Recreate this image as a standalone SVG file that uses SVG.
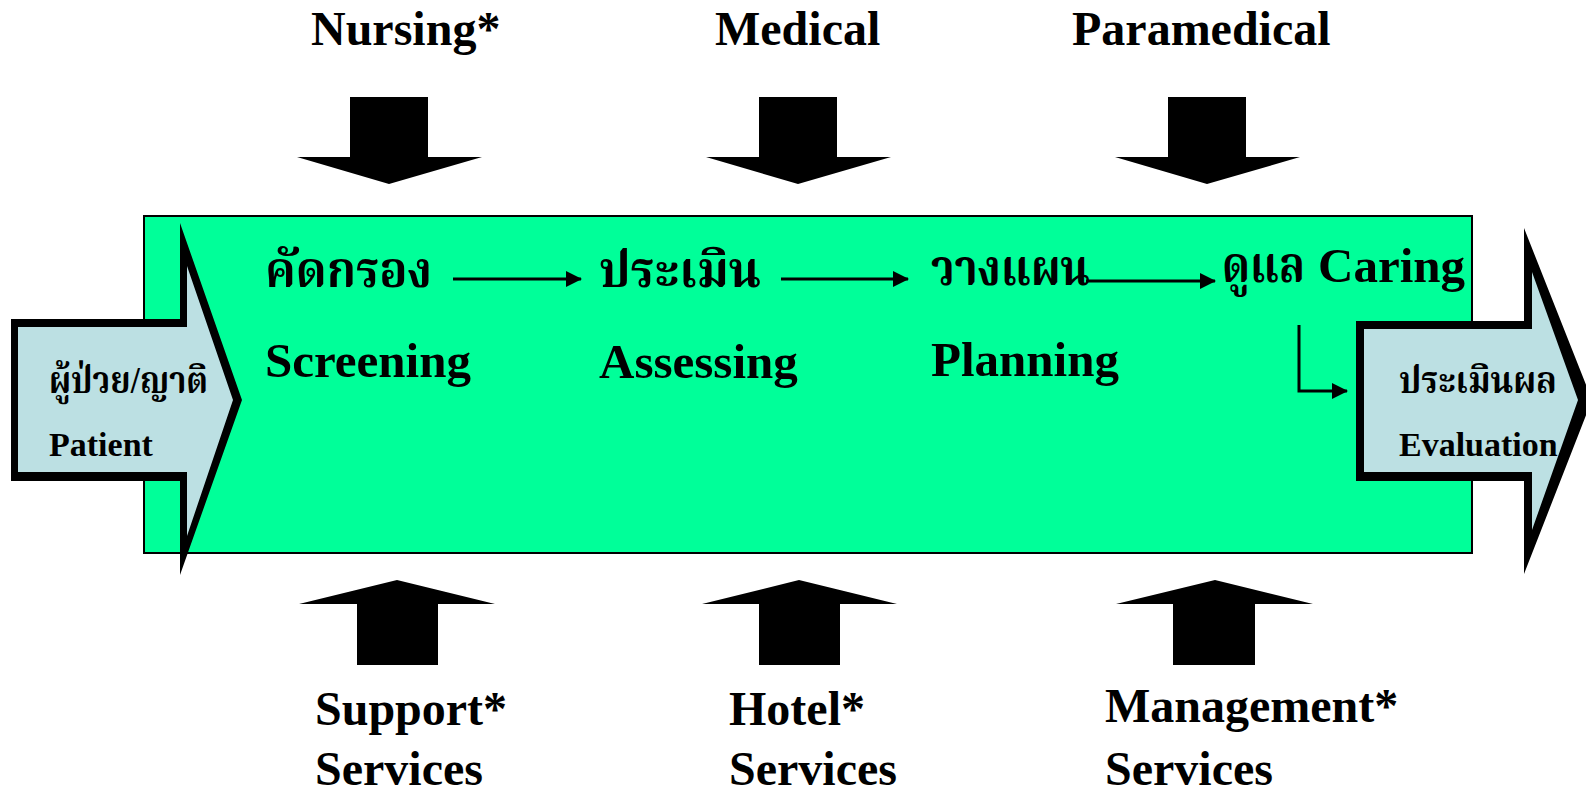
<svg xmlns="http://www.w3.org/2000/svg" width="1586" height="792" viewBox="0 0 1586 792">
  <style>
    .lbl { font-family: "Liberation Serif", "Times New Roman", serif; font-weight: bold; fill: #000; }
    .big { font-size: 48px; }
    .mid { font-size: 49px; }
    .sm { font-size: 34px; }
    .th { font-family: "Liberation Serif", "Noto Serif Thai", "Noto Sans Thai", serif; font-weight: bold; fill: #000; }
    .blk { fill: #000; }
    .pale { fill: #BCE0E3; }
    .line { stroke: #000; stroke-width: 3; fill: none; }
  </style>
  <defs>
    <marker id="head" viewBox="0 0 16 16" refX="15" refY="8" markerWidth="16" markerHeight="16" markerUnits="userSpaceOnUse" orient="auto">
      <path d="M0,0 L16,8 L0,16 Z" fill="#000"/>
    </marker>
  </defs>

  <rect width="1586" height="792" fill="#fff"/>

  <!-- process panel -->
  <g id="process-panel">
    <rect x="144" y="216" width="1328" height="337" fill="#00FF99" stroke="#000" stroke-width="2"/>
  </g>

  <!-- input arrow -->
  <g id="patient">
    <polygon class="blk" points="11,319 180,319 180,223 242,400 180,575 180,481 11,481"/>
    <polygon class="pale" points="18,327 187,327 187,266 233,400 187,536 187,472 18,472"/>
    <text class="th" x="49" y="393" font-size="38" textLength="159" lengthAdjust="spacingAndGlyphs">ผู้ป่วย/ญาติ</text>
    <text class="lbl sm" x="49" y="456">Patient</text>
  </g>

  <!-- output arrow -->
  <g id="evaluation">
    <polygon class="blk" points="1356,321 1524,321 1524,228 1592,400 1524,574 1524,481 1356,481"/>
    <polygon class="pale" points="1364,329 1532,329 1532,272 1578,400 1532,530 1532,472 1364,472"/>
    <text class="th" x="1399" y="393" font-size="38" textLength="158" lengthAdjust="spacingAndGlyphs">ประเมินผล</text>
    <text class="lbl sm" x="1399" y="456">Evaluation</text>
  </g>

  <!-- process steps -->
  <g id="screening">
    <text class="th" x="265" y="287" font-size="50" textLength="167" lengthAdjust="spacingAndGlyphs">คัดกรอง</text>
    <text class="lbl mid" x="265" y="377">Screening</text>
  </g>
  <g id="assessing">
    <text class="th" x="599" y="287" font-size="50" textLength="162" lengthAdjust="spacingAndGlyphs">ประเมิน</text>
    <text class="lbl mid" x="599" y="378">Assessing</text>
  </g>
  <g id="planning">
    <text class="th" x="931" y="285" font-size="50" textLength="159" lengthAdjust="spacingAndGlyphs">วางแผน</text>
    <text class="lbl mid" x="931" y="376">Planning</text>
  </g>
  <g id="caring">
    <text class="th" x="1222" y="282" font-size="50" textLength="83" lengthAdjust="spacingAndGlyphs">ดูแล</text>
    <text class="lbl mid" x="1318" y="282">Caring</text>
  </g>

  <!-- service inputs from above -->
  <g id="nursing">
    <text class="lbl big" x="311" y="45">Nursing*</text>
    <polygon class="blk" points="350,97 428,97 428,157 482,157 389,184 297,157 350,157"/>
  </g>
  <g id="medical">
    <text class="lbl big" x="715" y="45">Medical</text>
    <polygon class="blk" points="759,97 837,97 837,157 891,157 798,184 706,157 759,157"/>
  </g>
  <g id="paramedical">
    <text class="lbl big" x="1072" y="45">Paramedical</text>
    <polygon class="blk" points="1168,97 1246,97 1246,157 1300,157 1207,184 1115,157 1168,157"/>
  </g>

  <!-- service inputs from below -->
  <g id="support">
    <polygon class="blk" points="357,665 438,665 438,604 495,604 397,580 299,604 357,604"/>
    <text class="lbl big" x="315" y="725">Support*</text>
    <text class="lbl big" x="315" y="785">Services</text>
  </g>
  <g id="hotel">
    <polygon class="blk" points="759,665 840,665 840,604 897,604 799,580 702,604 759,604"/>
    <text class="lbl big" x="729" y="725">Hotel*</text>
    <text class="lbl big" x="729" y="785">Services</text>
  </g>
  <g id="management">
    <polygon class="blk" points="1173,665 1255,665 1255,604 1313,604 1215,580 1116,604 1173,604"/>
    <text class="lbl big" x="1105" y="722">Management*</text>
    <text class="lbl big" x="1105" y="785">Services</text>
  </g>

  <!-- step connectors -->
  <g id="connectors">
    <line class="line" x1="453" y1="279" x2="581" y2="279" marker-end="url(#head)"/>
    <line class="line" x1="781" y1="279" x2="908" y2="279" marker-end="url(#head)"/>
    <line class="line" x1="1086" y1="281" x2="1215" y2="281" marker-end="url(#head)"/>
    <polyline class="line" points="1299,325 1299,391 1347,391" marker-end="url(#head)"/>
  </g>
</svg>
